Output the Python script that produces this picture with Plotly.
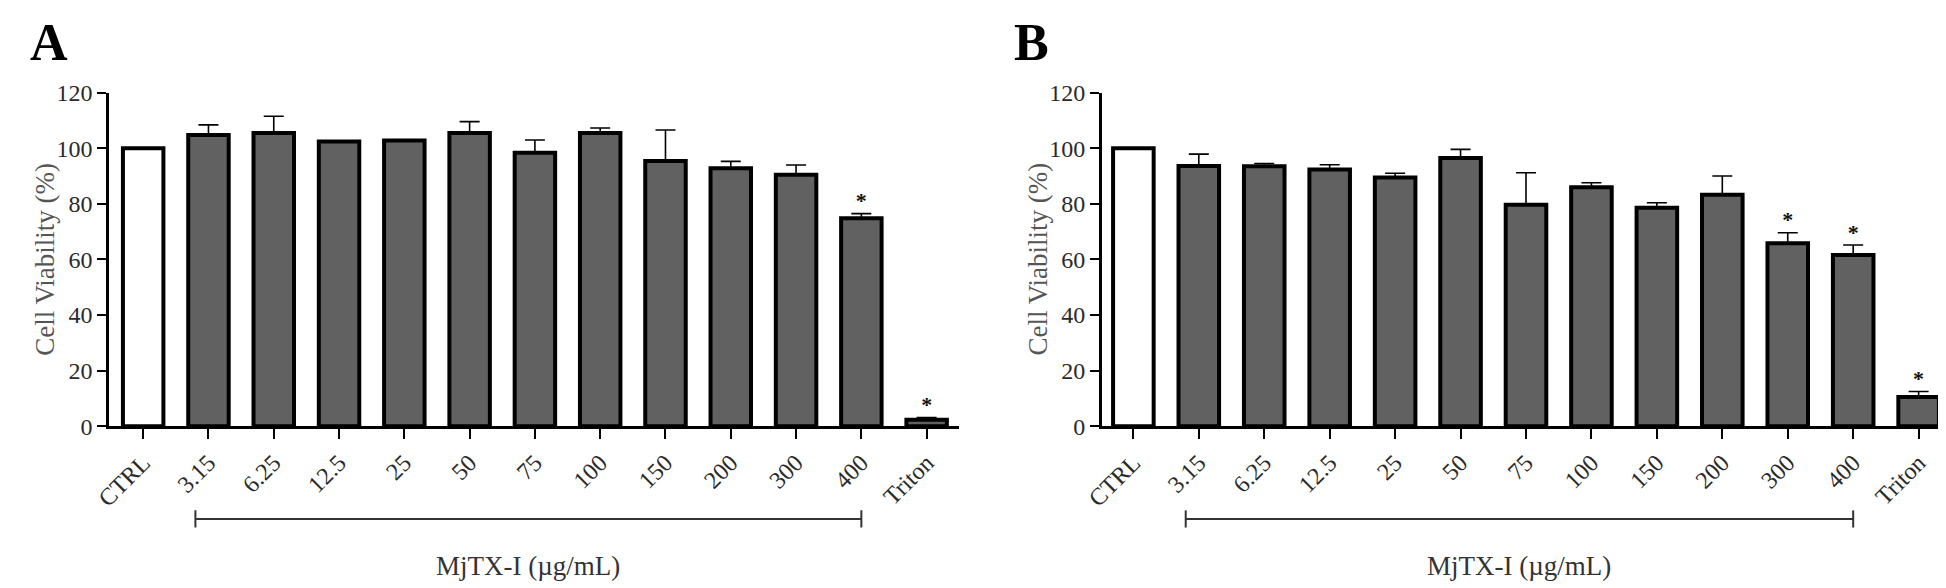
import plotly.graph_objects as go

categories = ["CTRL", "3.15", "6.25", "12.5", "25", "50", "75", "100", "150", "200", "300", "400", "Triton"]
dose_categories = categories[1:12]

values_A = [100, 104.8, 105.5, 102.4, 102.8, 105.5, 98.4, 105.5, 95.4, 92.8, 90.5, 74.8, 2.3]
errors_A = [0, 3.6, 6.0, 0, 0, 4.1, 4.6, 1.8, 11.2, 2.5, 3.5, 1.7, 0.8]
stars_A = [False] * 11 + [True, True]

values_B = [100, 93.6, 93.5, 92.4, 89.5, 96.5, 79.7, 86.0, 78.6, 83.3, 65.8, 61.6, 10.5]
errors_B = [0, 4.3, 1.0, 1.7, 1.5, 3.1, 11.5, 1.6, 1.8, 6.7, 3.8, 3.6, 2.0]
stars_B = [False] * 10 + [True, True, True]

y_ticks = [0, 20, 40, 60, 80, 100, 120]
panel_letters = ["A", "B"]
x_title = "MjTX-I (µg/mL)"
y_title = "Cell Viability (%)"

FONT = "Liberation Serif, Times New Roman, serif"
GRAY = "#616161"
W, H = 1946, 588

bar_colors = ["white"] + [GRAY] * 12

fig = go.Figure()

panels = [
    (values_A, errors_A, stars_A, "x", "y", (84, 942), [-0.52, 12.5]),
    (values_B, errors_B, stars_B, "x2", "y2", (1086, 1942), [-0.48, 12.48]),
]

for idx, (vals, errs, stars, xa, ya, (px0, px1), xr) in enumerate(panels):
    fig.add_trace(go.Bar(
        x=categories, y=vals, xaxis=xa, yaxis=ya,
        width=0.62,
        marker=dict(color=bar_colors, line=dict(color="black", width=4)),
        error_y=dict(type="data", array=errs, arrayminus=[0] * len(errs), symmetric=False,
                     color="black", thickness=1.6, width=10),
        showlegend=False,
    ))
    sx = [c for c, s in zip(categories, stars) if s]
    sy = [v + e for v, e, s in zip(vals, errs, stars) if s]
    fig.add_trace(go.Scatter(
        x=sx, y=sy, xaxis=xa, yaxis=ya, mode="text", text=["<b>*</b>"] * len(sx),
        textposition="top center", textfont=dict(family=FONT, size=22, color="#111"),
        showlegend=False, cliponaxis=False,
    ))
    sfx = "" if idx == 0 else "2"
    axis_common = dict(showline=True, linewidth=3, linecolor="black", ticks="outside",
                       tickwidth=2, tickcolor="black", showgrid=False, zeroline=False,
                       tickfont=dict(family=FONT, size=24, color="#2a2a2a"))
    fig.layout["xaxis" + sfx] = dict(
        **axis_common, domain=[px0 / W, px1 / W], anchor="y" + sfx, type="category",
        range=xr, tickangle=-45, ticklen=10, fixedrange=True,
    )
    fig.layout["yaxis" + sfx] = dict(
        **axis_common, domain=[1 - 424 / H, 1 - 75 / H], anchor="x" + sfx,
        range=[0, 120], tickvals=y_ticks, ticklen=9,
    )
    # bracket for dose group
    i0 = categories.index(dose_categories[0]) - 0.2
    i1 = categories.index(dose_categories[-1])
    yb = 1 - 521 / H
    fig.add_shape(type="line", xref=xa, yref="paper", x0=i0, x1=i1, y0=yb, y1=yb,
                  line=dict(color="#333", width=2))
    for xe in (i0, i1):
        fig.add_shape(type="line", xref=xa, yref="paper", x0=xe, x1=xe,
                      y0=1 - 530 / H, y1=1 - 512 / H, line=dict(color="#333", width=2))
    fig.add_annotation(xref=xa, yref="paper", x=(i0 + i1) / 2, y=1 - 570 / H,
                       text=x_title, showarrow=False, xanchor="center", yanchor="middle",
                       font=dict(family=FONT, size=27, color="#333"))
    # y title
    fig.add_annotation(xref="paper", yref="paper", x=(px0 - 65) / W, y=1 - 249 / H,
                       text=y_title, textangle=-90, showarrow=False,
                       xanchor="center", yanchor="middle",
                       font=dict(family=FONT, size=27, color="#555"))
    # panel letter
    fig.add_annotation(xref="paper", yref="paper", x=(px0 - 84 + 2) / W if idx == 0 else 995 / W,
                       y=1 - 22 / H, text="<b>%s</b>" % panel_letters[idx], showarrow=False,
                       xanchor="left", yanchor="middle",
                       font=dict(family=FONT, size=52, color="black"))

fig.update_layout(
    width=W, height=H, margin=dict(l=0, r=0, t=0, b=0),
    paper_bgcolor="white", plot_bgcolor="white", bargap=0.38,
)

fig.write_html("out.html")
